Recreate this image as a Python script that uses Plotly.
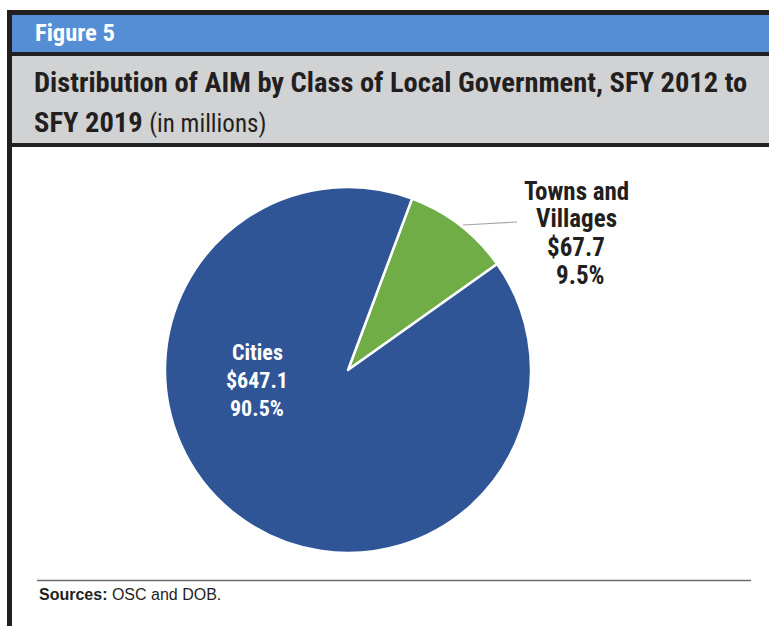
import plotly.graph_objects as go

# ---- data ----
labels = ["Towns and Villages", "Cities"]
label_lines = [["Towns and", "Villages"], ["Cities"]]
values = [67.7, 647.1]
colors = ["#70AD47", "#2F5597"]

W, H = 769, 626
FONT = "Liberation Sans Narrow, Arial Narrow, Roboto Condensed, Liberation Sans, Arial, sans-serif"
BODY = "Liberation Sans, Arial, sans-serif"

def px(x):
    return x / W

def py(y):
    return 1 - y / H

total = sum(values)
pcts = [v / total * 100 for v in values]

fig = go.Figure(go.Pie(
    labels=labels,
    values=values,
    sort=False,
    direction="clockwise",
    rotation=20.5,
    marker=dict(colors=colors, line=dict(color="white", width=2.5)),
    textinfo="none",
    hoverinfo="label+value+percent",
    showlegend=False,
    domain=dict(x=[px(165), px(531)], y=[py(553), py(187)]),
))

shapes = []
def rect(x0, y0, x1, y1, color):
    shapes.append(dict(type="rect", xref="paper", yref="paper",
                       x0=px(x0), x1=px(x1), y0=py(y1), y1=py(y0),
                       fillcolor=color, line=dict(width=0), layer="below"))

dark = "#231F20"
rect(7, 10, W + 5, 15, dark)        # top border
rect(7, 15, W + 5, 52, "#558ED5")   # blue header
rect(7, 52, W + 5, 56, dark)
rect(7, 56, W + 5, 143, "#D1D2D4")  # gray title band
rect(7, 143, W + 5, 147, dark)
rect(7, 10, 12, H + 5, dark)        # left border

# sources rule
shapes.append(dict(type="line", xref="paper", yref="paper",
                   x0=px(37), x1=px(751), y0=py(580.5), y1=py(580.5),
                   line=dict(color="#6D6E71", width=1.5)))
# leader line for Towns and Villages
shapes.append(dict(type="line", xref="paper", yref="paper",
                   x0=px(463), x1=px(517), y0=py(225), y1=py(222),
                   line=dict(color="#A6A6A6", width=1.2)))

def note(text, x, y, size, color, family=FONT, xanchor="center"):
    return dict(text=text, x=px(x), y=py(y), xanchor=xanchor, yanchor="middle",
                align="center", font=dict(family=family, size=size, color=color),
                showarrow=False, xref="paper", yref="paper")

annotations = [
    note("<b>Figure 5</b>", 33, 33, 24.5, "white", xanchor="left"),
    note("<b>Distribution of AIM by Class of Local Government, SFY 2012 to</b>",
         32, 82, 28.5, dark, xanchor="left"),
    note("<b>SFY 2019</b> <span style='font-size:25px'>(in millions)</span>",
         32, 123, 28.5, dark, xanchor="left"),
    note("<b>Sources:</b> OSC and DOB.", 37, 594, 16, dark, family=BODY, xanchor="left"),
]

# slice labels, one annotation per line for tight line spacing
towns_lines = label_lines[0] + [f"${values[0]:.1f}", f"{pcts[0]:.1f}%"]
towns_x = [576, 576, 576, 580]
for i, (t, x) in enumerate(zip(towns_lines, towns_x)):
    annotations.append(note(f"<b>{t}</b>", x, 191 + 28 * i, 25, dark))

cities_lines = label_lines[1] + [f"${values[1]:.1f}", f"{pcts[1]:.1f}%"]
for i, t in enumerate(cities_lines):
    annotations.append(note(f"<b>{t}</b>", 257, 352 + 28 * i, 22, "white"))

fig.update_layout(
    width=W, height=H,
    margin=dict(l=0, r=0, t=0, b=0),
    paper_bgcolor="white",
    plot_bgcolor="white",
    shapes=shapes,
    annotations=annotations,
    font=dict(family=FONT),
)

fig.write_html(
    "out.html",
    config={"displayModeBar": False},
    post_script="document.body.style.margin='0';document.body.style.overflow='hidden';",
)
